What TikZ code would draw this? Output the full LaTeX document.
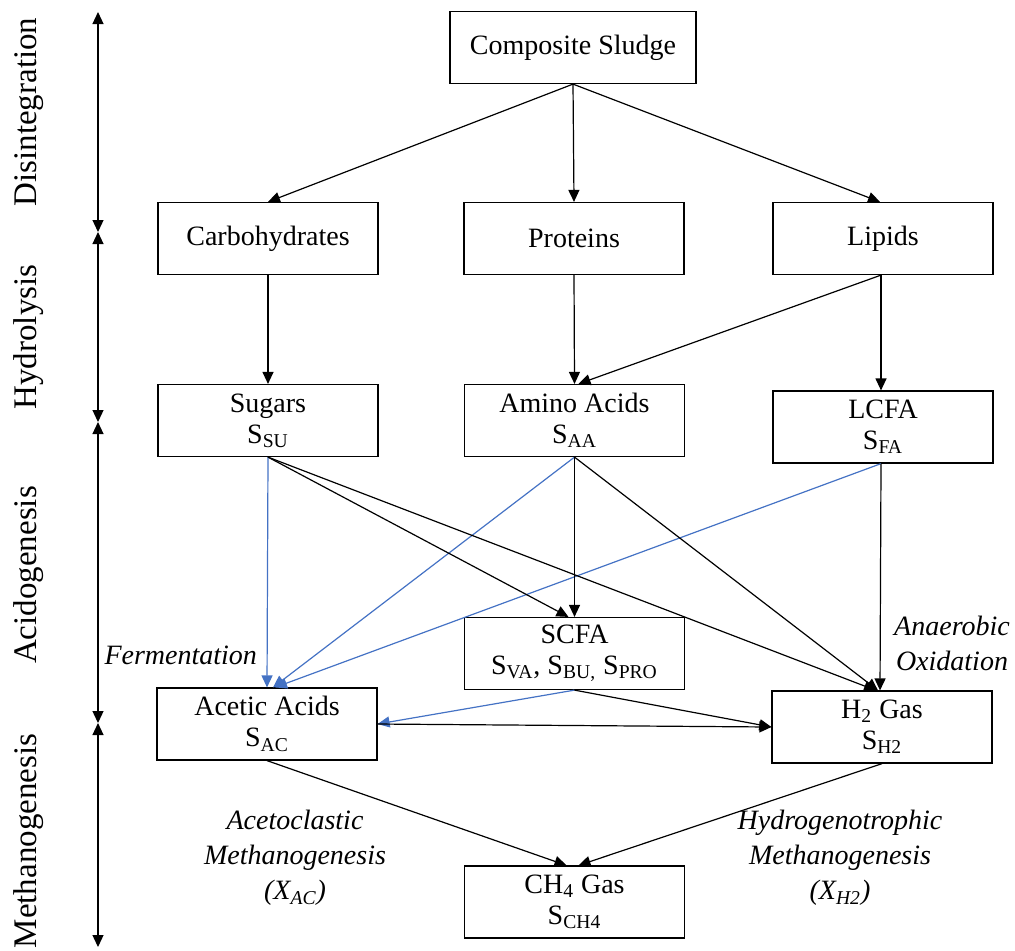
\documentclass[tikz,border=0pt]{standalone}
\usepackage{fontspec}
\setmainfont{Liberation Serif}
\usetikzlibrary{arrows.meta}
\definecolor{flowblue}{RGB}{68,114,196}

\begin{document}
\begin{tikzpicture}[x=0.5pt,y=-0.5pt,
  box/.style={draw, line width=0.6pt, minimum width=110pt, minimum height=36pt,
    align=center, inner sep=0pt, font=\fontsize{14}{15.5}\selectfont},
  phase/.style={rotate=90, font=\fontsize{16.5}{20}\selectfont},
  note/.style={align=center, font=\fontsize{14}{17.5}\selectfont\itshape},
  flow/.style={line width=0.6pt, -{Triangle[length=6pt,width=5.5pt]}},
  bothflow/.style={line width=0.6pt, {Triangle[length=6pt,width=5.5pt]}-{Triangle[length=6pt,width=5.5pt]}}]

  \useasboundingbox (0,0) rectangle (1015,950);

  % boxes
  \node[box, minimum width=123pt] (comp) at (573,47.5) {Composite Sludge};

  \node[box] (carb) at (268,238.5) {Carbohydrates};
  \node[box] (prot) at (574,238.5) {Proteins};
  \node[box] (lip)  at (883,238.5) {Lipids};

  \node[box] (sug)  at (268,420.5) {Sugars\\S\textsubscript{SU}};
  \node[box] (amino) at (574.5,420.5) {Amino Acids\\S\textsubscript{AA}};
  \node[box] (lcfa) at (883,427) {LCFA\\S\textsubscript{FA}};

  \node[box] (scfa) at (574.5,653.5) {SCFA\\S\textsubscript{VA}, S\textsubscript{BU,} S\textsubscript{PRO}};
  \node[box] (acet) at (267,724) {Acetic Acids\\S\textsubscript{AC}};
  \node[box] (htwo) at (882,727) {H\textsubscript{2} Gas\\S\textsubscript{H2}};

  \node[box] (meth) at (574.5,902) {CH\textsubscript{4} Gas\\S\textsubscript{CH4}};

  % phase axis
  \coordinate (a0) at (98,12);
  \coordinate (a1) at (98,232);
  \coordinate (a2) at (98,422);
  \coordinate (a3) at (98,723);
  \coordinate (a4) at (98,947);
  \draw[bothflow] (a0) -- (a1);
  \draw[bothflow] (a1) -- (a2);
  \draw[bothflow] (a2) -- (a3);
  \draw[bothflow] (a3) -- (a4);

  \node[phase] (disl) at (29,112) {Disintegration};
  \node[phase] (hydl) at (29,337) {Hydrolysis};
  \node[phase] (acil) at (29,575) {Acidogenesis};
  \node[phase] (metl) at (29,841) {Methanogenesis};

  % disintegration and hydrolysis
  \draw[flow] (comp.south) -- (carb.north);
  \draw[flow] (comp.south) -- (prot.north);
  \draw[flow] (comp.south) -- ([xshift=-1.5pt]lip.north);
  \draw[flow] (carb.south) -- (sug.north);
  \draw[flow] (prot.south) -- (amino.north);
  \draw[flow] ([xshift=-1pt]lip.south) -- ([xshift=2pt]amino.north);
  \draw[flow] ([xshift=-1pt]lip.south) -- ([xshift=-1pt]lcfa.north);

  % acidogenesis
  \draw[flow, flowblue] (sug.south) -- (acet.north);
  \draw[flow, flowblue] (amino.south) -- ([xshift=3pt]acet.north);
  \draw[flow, flowblue] ([xshift=-1pt]lcfa.south) -- ([xshift=4pt]acet.north);
  \draw[flow] (sug.south) -- ([xshift=-3pt]scfa.north);
  \draw[flow] (amino.south) -- (scfa.north);
  \draw[flow] (sug.south) -- ([xshift=-3pt]htwo.north);
  \draw[flow] (amino.south) -- ([xshift=-2pt]htwo.north);
  \draw[flow] ([xshift=-1pt]lcfa.south) -- ([xshift=-1pt]htwo.north);
  \draw[flow, flowblue] (scfa.south) -- (acet.east);
  \draw[flow] (scfa.south) -- (htwo.west);
  \draw[flow] (acet.east) -- (htwo.west);

  % methanogenesis
  \draw[flow] (acet.south) -- ([xshift=-4pt]meth.north);
  \draw[flow] (htwo.south) -- ([xshift=2pt]meth.north);

  % labels
  \node[note, anchor=east] (ferm) at (264,655) {Fermentation};
  \node[note] (anox) at (952,643) {Anaerobic\\Oxidation};
  \node[note] (acm) at (295,858) {Acetoclastic\\Methanogenesis\\(X\textsubscript{AC})};
  \node[note] (hym) at (840,858) {Hydrogenotrophic\\Methanogenesis\\(X\textsubscript{H2})};

\end{tikzpicture}
\end{document}
